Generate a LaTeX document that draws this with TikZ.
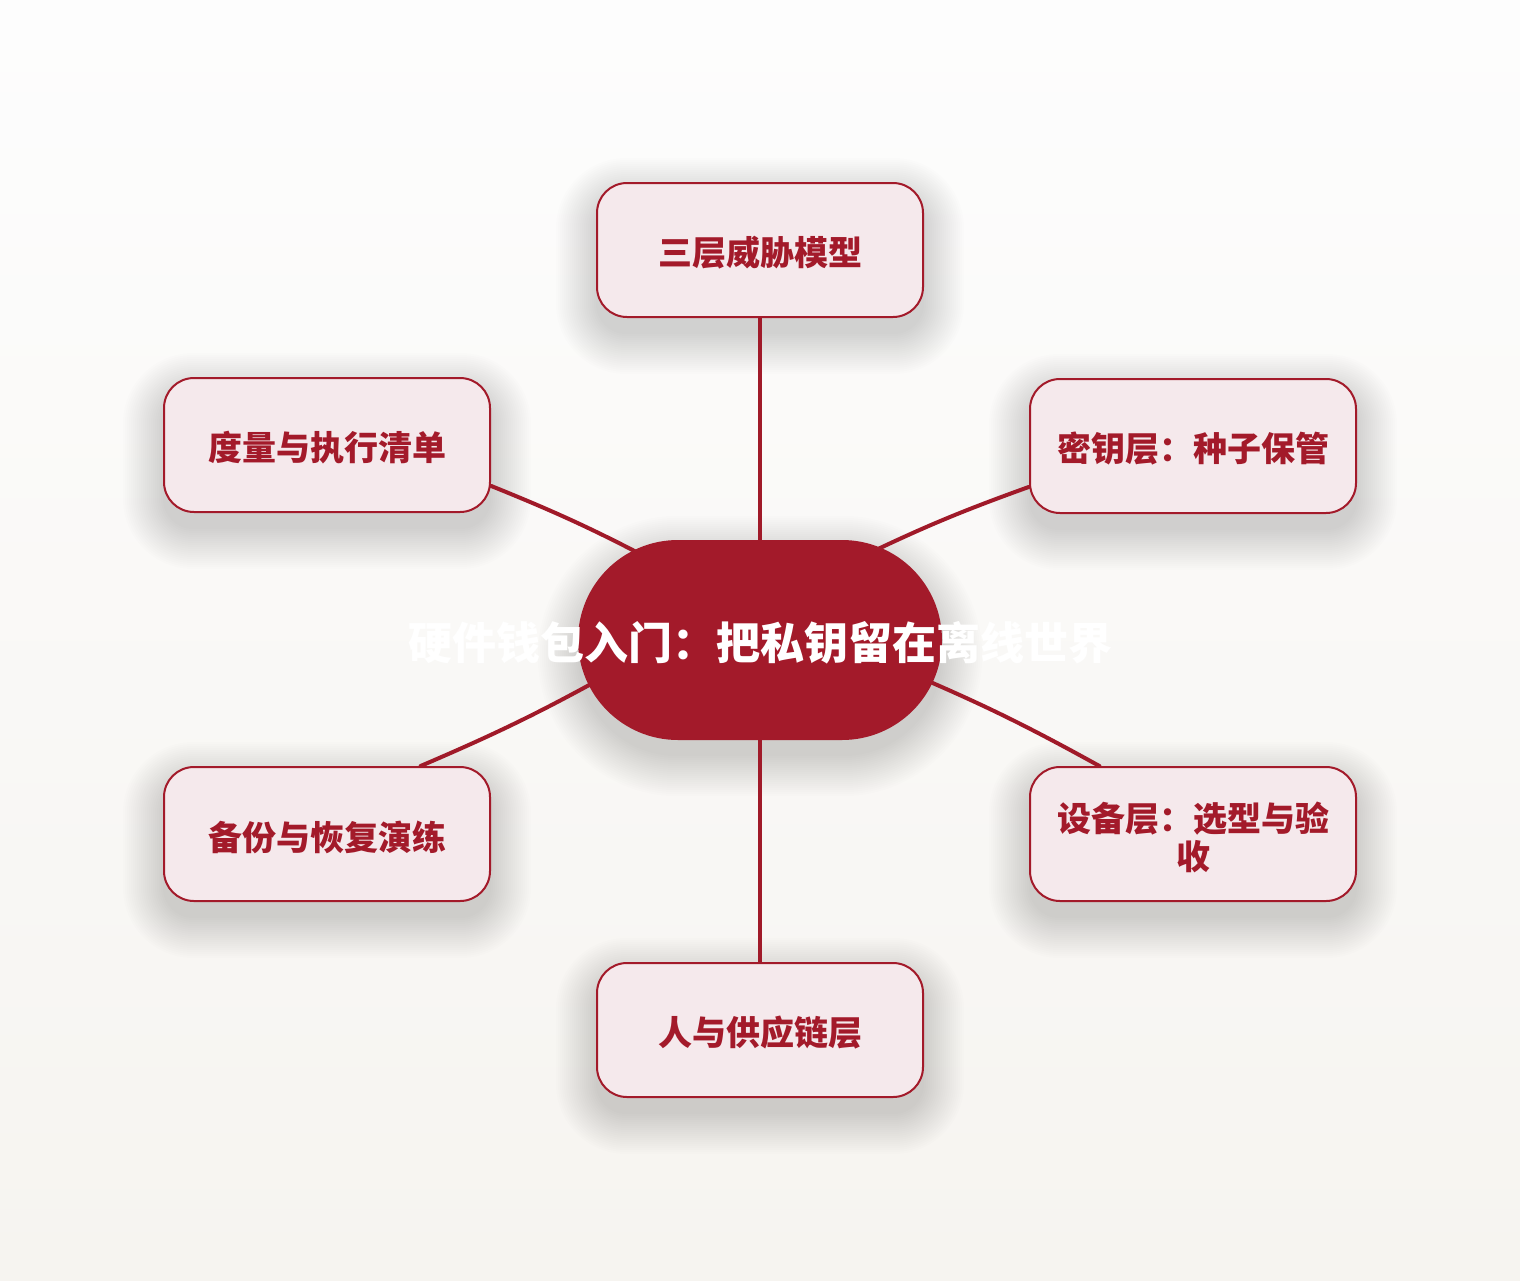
\documentclass[tikz,border=0pt]{standalone}
\usepackage{fontspec}
\setmainfont{Noto Sans CJK SC}
\usetikzlibrary{calc}
\pgfdeclarelayer{bglayer}
\pgfdeclarelayer{shadowlayer}
\pgfdeclarelayer{lines}
\pgfsetlayers{bglayer,shadowlayer,lines,main}
\definecolor{darkred}{HTML}{A31A2A}
\definecolor{linered}{HTML}{A01A29}
\definecolor{satfill}{HTML}{F5E9EC}
\definecolor{bgtop}{HTML}{FDFDFD}
\definecolor{bgbot}{HTML}{F6F4F0}
\newcommand\lowtext[1]{\raisebox{-3pt}[\height][\depth]{#1}}
\tikzset{
  sat/.style={draw=darkred, line width=2pt, fill=satfill, rounded corners=30pt,
    minimum width=326pt, minimum height=134pt, inner sep=0pt,
    text=darkred, font=\fontsize{34}{38}\selectfont\bfseries, align=center},
  hub/.style={fill=darkred, rounded corners=100pt, minimum width=364pt, minimum height=200pt,
    inner sep=0pt},
  hubtext/.style={text=white, font=\fontsize{44}{50}\selectfont\bfseries, inner sep=0pt},
  conn/.style={draw=linered, line width=4pt, line cap=round}
}
\newcommand\mysoftshadow[2]{%
  \foreach \r in {0,2,...,40} {
    \pgfmathsetmacro\rc{#2+\r}
    \fill[black, opacity=0.0085, rounded corners=\rc pt]
      ($(#1.south west)+(-\r,\r+16)$) rectangle ($(#1.north east)+(\r,-\r+16)$);
  }%
}
\begin{document}
\begin{tikzpicture}[x=1pt,y=-1pt]
\begin{pgfonlayer}{bglayer}
\shade[top color=bgtop, bottom color=bgbot] (0,0) rectangle (1520,1280);
\end{pgfonlayer}
\useasboundingbox (0,0) rectangle (1520,1280);

\node[hub] (c) at (760,640) {};
\node[hubtext] (ct) at (760,643) {硬件钱包入门：把私钥留在离线世界};

\node[sat] (t)  at (760,250)  {\lowtext{三层威胁模型}};
\node[sat] (ru) at (1193,446) {\lowtext{密钥层：种子保管}};
\node[sat] (rl) at (1193,834) {\lowtext{设备层：选型与验}\\\lowtext{收}};
\node[sat] (b)  at (760,1030) {\lowtext{人与供应链层}};
\node[sat] (ll) at (327,834)  {\lowtext{备份与恢复演练}};
\node[sat] (lu) at (327,445)  {\lowtext{度量与执行清单}};

\begin{pgfonlayer}{shadowlayer}
\mysoftshadow{c}{100}
\foreach \n in {t,ru,rl,b,ll,lu} {\mysoftshadow{\n}{30}}
\end{pgfonlayer}

\begin{pgfonlayer}{lines}
\draw[conn] (t.south) -- (c.north);
\draw[conn] (c.south) -- (b.north);
\draw[conn] ($(c.center)+(95,-80)$) to[bend left=3] (ru.194);
\draw[conn] ($(c.center)+(140,29)$) to[bend left=3] (rl.144);
\draw[conn] ($(c.center)+(-140,28)$) to[bend left=3] (ll.36);
\draw[conn] ($(c.center)+(-95,-73)$) to[bend right=3] (lu.346);
\end{pgfonlayer}
\end{tikzpicture}
\end{document}
